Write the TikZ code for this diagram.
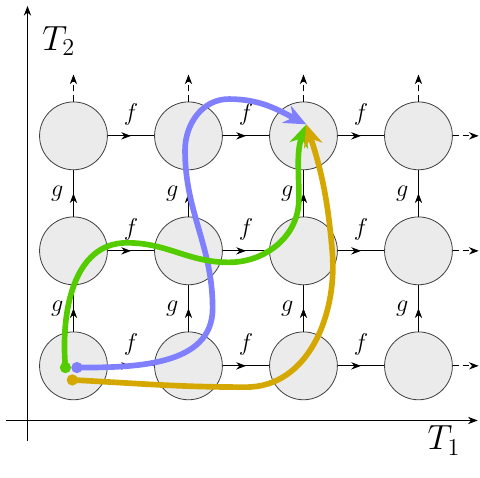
\documentclass[tikz,border=0pt]{standalone}
\usetikzlibrary{arrows.meta,decorations.markings}

\definecolor{pathblue}{RGB}{128,128,255}
\definecolor{pathgreen}{RGB}{85,204,0}
\definecolor{pathyellow}{RGB}{212,168,0}

\tikzset{
    state/.style={circle,draw=black!75,fill=black!8,minimum size=1.18cm,inner sep=0pt},
    midarrow/.style={postaction={decorate},decoration={markings,mark=at position 0.5 with {\arrow{Stealth}}}},
    walk/.style={line width=2.8pt,-{Stealth[length=11pt,width=9.5pt]}},
}

\begin{document}
\begin{tikzpicture}
    \useasboundingbox (-1.278,-1.95) rectangle (7.07,6.363);

    % axes
    \draw[-Stealth] (-1.17,-0.95) -- (7.03,-0.95);
    \draw[-Stealth] (-0.8,-1.31) -- (-0.8,6.26);
    \node[anchor=base west,inner sep=0pt,font=\LARGE] (t1) at (6.15,-1.46) {$T_1$};
    \node[anchor=base west,inner sep=0pt,font=\LARGE] (t2) at (-0.55,5.49) {$T_2$};

    \foreach \i in {0,1,2,3} {
        \foreach \j in {0,1,2} {
            \node[state] (c-\i-\j) at (2*\i,2*\j) {};
        }
    }

    \foreach \i/\k in {0/1,1/2,2/3} {
        \foreach \j in {0,1,2} {
            \draw[midarrow] (c-\i-\j) -- node[above=1.5pt,font=\large] {$f$} (c-\k-\j);
        }
    }
    \foreach \i in {0,1,2,3} {
        \foreach \j/\k in {0/1,1/2} {
            \draw[midarrow] (c-\i-\j) -- node[left=1.5pt,font=\large] {$g$} (c-\i-\k);
        }
        \draw[densely dashed,-Stealth] (c-\i-2.north) -- ++(0,0.47);
    }
    \foreach \j in {0,1,2} {
        \draw[densely dashed,-Stealth] (c-3-\j.east) -- ++(0.45,0);
    }

    \coordinate (sblue) at (0.06,-0.03);
    \coordinate (sgreen) at (-0.14,-0.03);
    \coordinate (syellow) at (-0.02,-0.245);
    \coordinate (goal) at (4.05,4.2);

    \fill[pathblue] (sblue) circle(2.8pt);
    \draw[walk,pathblue] (sblue) to[out=0,in=-90] (2.42,1.0) to[out=90,in=-90] (1.94,3.75)
        to[out=90,in=180] (2.7,4.64) to[out=0,in=153] (goal);

    \fill[pathgreen] (sgreen) circle(2.8pt);
    \draw[walk,pathgreen] (sgreen) to[out=95,in=180] (0.93,2.14) to[out=0,in=180] (2.7,1.8)
        to[out=0,in=-90] (3.92,2.9) to[out=90,in=-110] (goal);

    \fill[pathyellow] (syellow) circle(2.8pt);
    \draw[walk,pathyellow] (syellow) to[out=-3,in=180] (3.0,-0.37) to[out=0,in=-85] (4.5,2.0)
        to[out=95,in=-72] (goal);

\end{tikzpicture}
\end{document}
